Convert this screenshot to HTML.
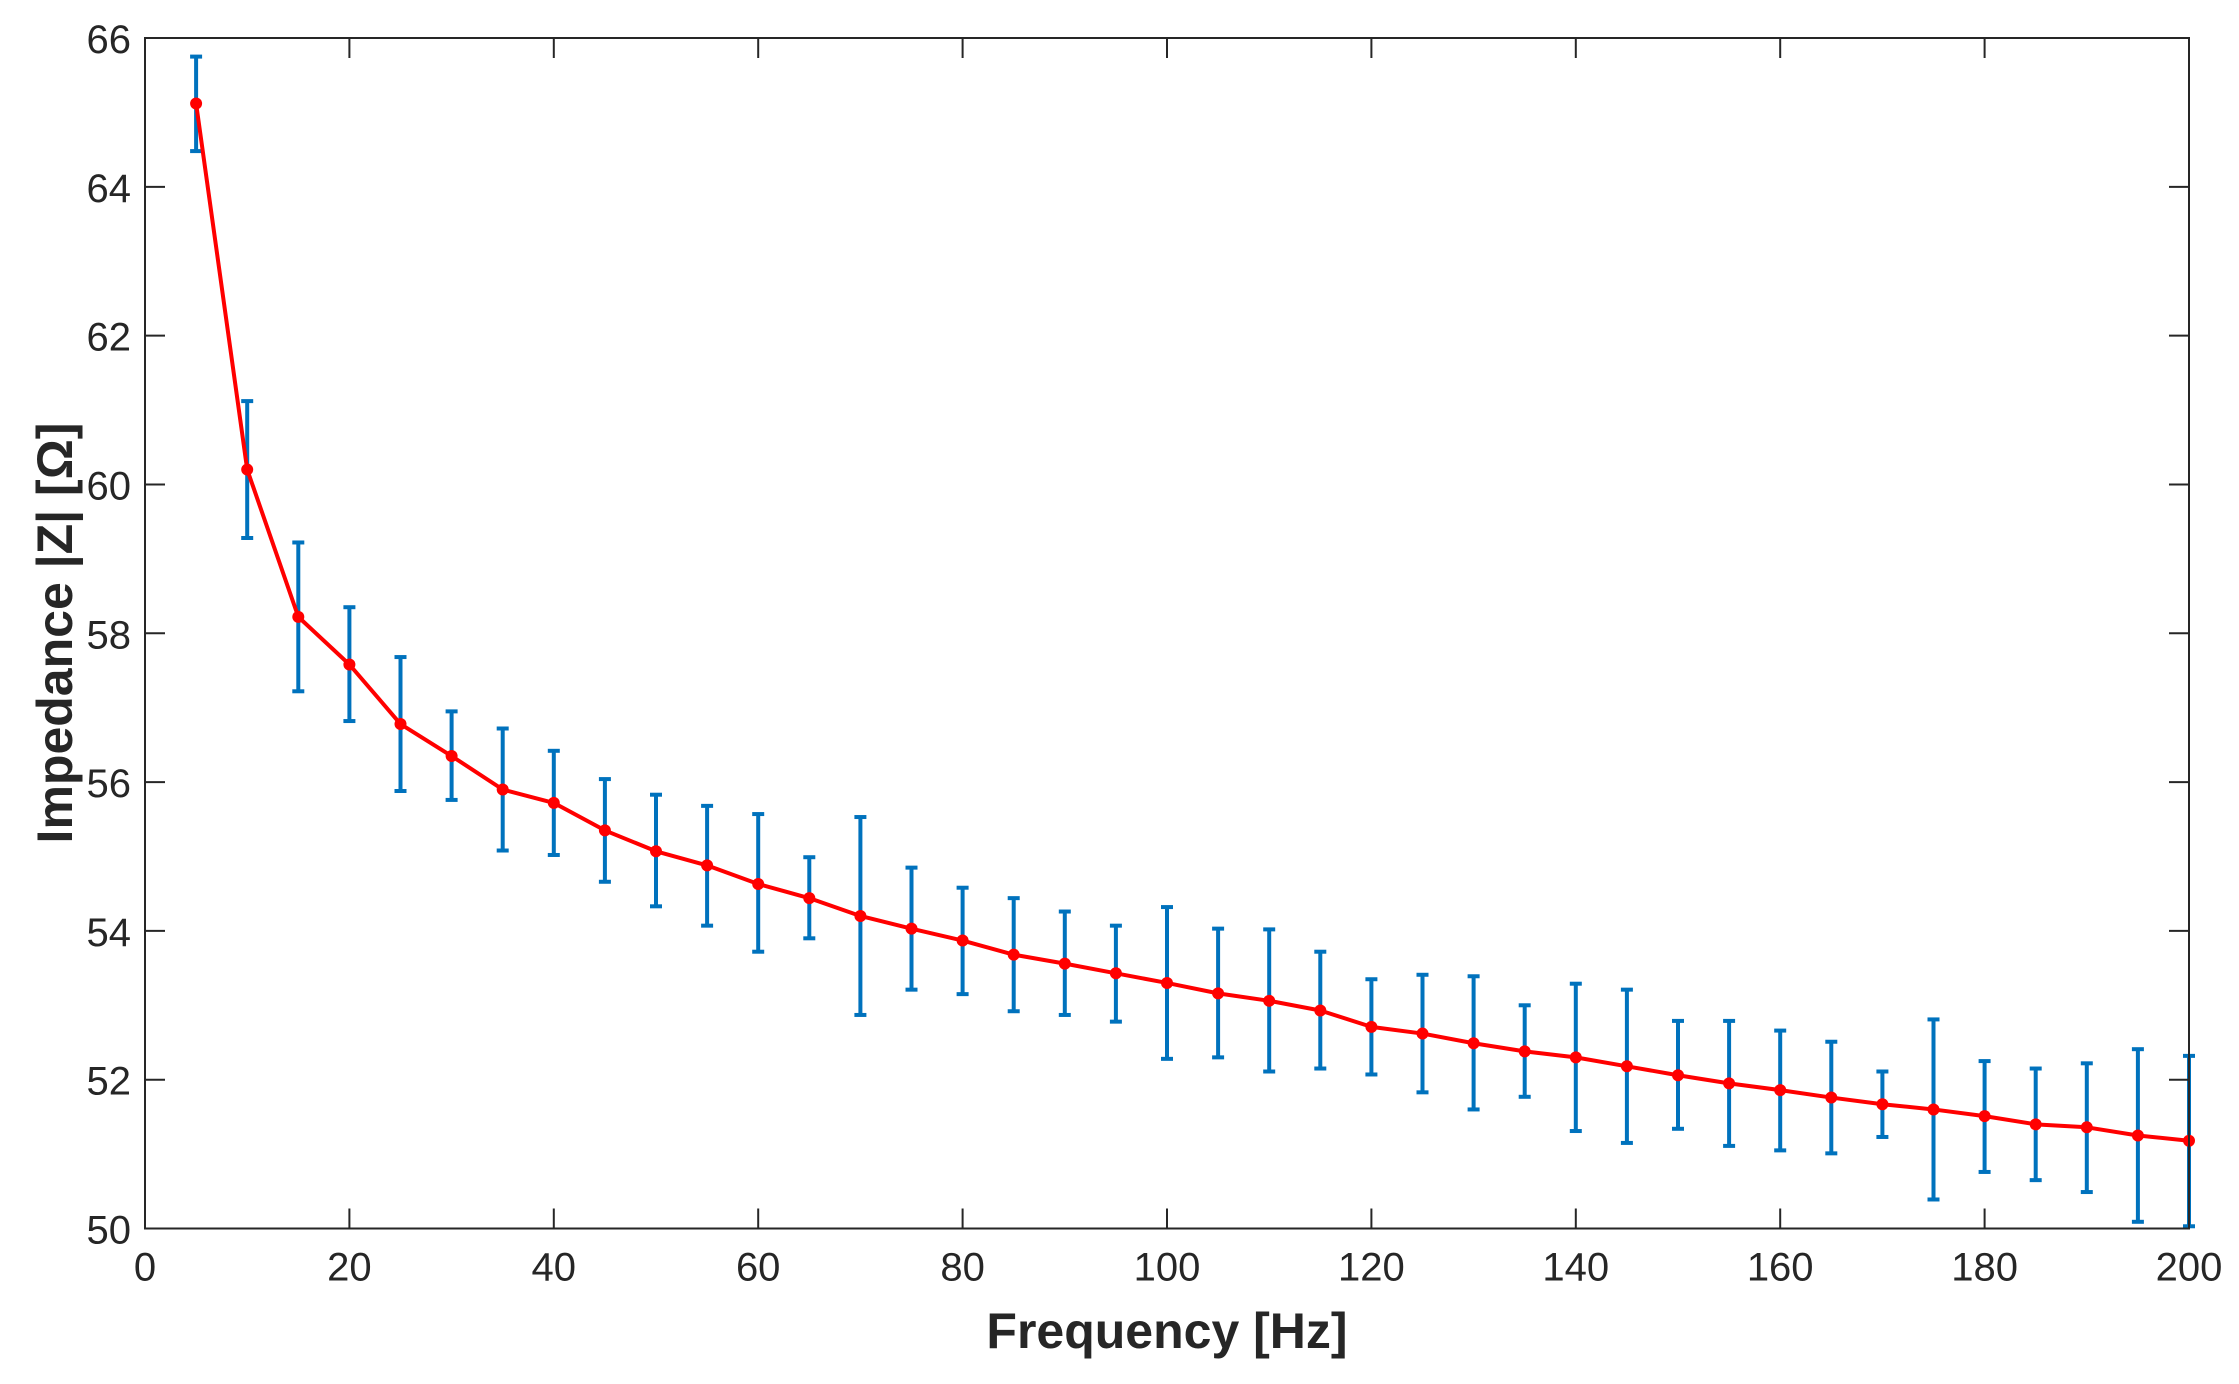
<!DOCTYPE html>
<html><head><meta charset="utf-8"><style>
body{margin:0;background:#fff;}
svg text{font-family:"Liberation Sans",Arial,sans-serif;fill:#262626;}
</style></head><body>
<svg id="chart" width="2239" height="1379" viewBox="0 0 2239 1379" xmlns="http://www.w3.org/2000/svg">
<rect x="0" y="0" width="2239" height="1379" fill="#fff"/>
<g id="grid"></g><g id="err"></g><g id="line"></g><g id="ticks"></g>
<text x="1167" y="1348" font-size="50" font-weight="bold" text-anchor="middle">Frequency [Hz]</text>
<text transform="translate(72,633) rotate(-90)" font-size="50" font-weight="bold" text-anchor="middle">Impedance |Z| [Ω]</text>
</svg>
<script>
const freqs=[5,10,15,20,25,30,35,40,45,50,55,60,65,70,75,80,85,90,95,100,105,110,115,120,125,130,135,140,145,150,155,160,165,170,175,180,185,190,195,200];
const impedance=[65.12,60.2,58.22,57.58,56.78,56.35,55.9,55.72,55.35,55.07,54.88,54.63,54.44,54.2,54.03,53.87,53.68,53.56,53.43,53.3,53.16,53.06,52.93,52.71,52.62,52.49,52.38,52.3,52.18,52.06,51.95,51.86,51.76,51.67,51.6,51.51,51.4,51.36,51.25,51.18];
const lower=[64.48,59.28,57.22,56.82,55.88,55.76,55.08,55.02,54.66,54.33,54.07,53.72,53.9,52.87,53.21,53.15,52.92,52.87,52.78,52.28,52.3,52.11,52.15,52.07,51.83,51.6,51.77,51.31,51.15,51.34,51.11,51.05,51.01,51.23,50.39,50.76,50.65,50.49,50.09,50.03];
const upper=[65.75,61.12,59.22,58.35,57.68,56.95,56.72,56.42,56.04,55.83,55.68,55.57,54.99,55.53,54.85,54.58,54.44,54.26,54.07,54.32,54.03,54.02,53.72,53.35,53.41,53.39,53.0,53.29,53.21,52.79,52.79,52.66,52.51,52.11,52.81,52.25,52.15,52.22,52.41,52.32];
const xTicks=[0,20,40,60,80,100,120,140,160,180,200];
const yTicks=[50,52,54,56,58,60,62,64,66];
const L=145,R=2189,T=38,B=1228.5;
const xs=v=>L+(v-0)/(200-0)*(R-L);
const ys=v=>B-(v-50)/(66-50)*(B-T);
const NS='http://www.w3.org/2000/svg';
function mk(tag,attrs,parent){const e=document.createElementNS(NS,tag);for(const k in attrs)e.setAttribute(k,attrs[k]);parent.appendChild(e);return e;}
const svg=document.getElementById('chart');
const tg=document.getElementById('ticks');
const box=mk('rect',{x:L,y:T,width:R-L,height:B-T,fill:'none',stroke:'#262626','stroke-width':2},tg);


xTicks.forEach(v=>{
  const x=xs(v);
  mk('line',{x1:x,y1:B,x2:x,y2:B-20,stroke:'#262626','stroke-width':2},tg);
  mk('line',{x1:x,y1:T,x2:x,y2:T+20,stroke:'#262626','stroke-width':2},tg);
  const t=mk('text',{x:x,y:B+52,'font-size':40,'text-anchor':'middle'},tg);
  t.textContent=v;
  
  
});
yTicks.forEach(v=>{
  const y=ys(v);
  mk('line',{x1:L,y1:y,x2:L+20,y2:y,stroke:'#262626','stroke-width':2},tg);
  mk('line',{x1:R,y1:y,x2:R-20,y2:y,stroke:'#262626','stroke-width':2},tg);
  const t=mk('text',{x:L-14,y:y+15,'font-size':40,'text-anchor':'end'},tg);
  t.textContent=v;
  
  
});
const eg=document.getElementById('err');
freqs.forEach((f,i)=>{
  const x=xs(f),y1=ys(lower[i]),y2=ys(upper[i]);
  const g=mk('g',{stroke:'#0072BD','stroke-width':4},eg);
  
  
  mk('line',{x1:x,y1:y1,x2:x,y2:y2},g);
  mk('line',{x1:x-6,y1:y1,x2:x+6,y2:y1},g);
  mk('line',{x1:x-6,y1:y2,x2:x+6,y2:y2},g);
});
const lg=document.getElementById('line');
const pl=mk('polyline',{points:freqs.map((f,i)=>xs(f)+','+ys(impedance[i])).join(' '),fill:'none',stroke:'#FF0000','stroke-width':4,'stroke-linejoin':'round'},lg);


freqs.forEach((f,i)=>{
  const c=mk('circle',{cx:xs(f),cy:ys(impedance[i]),r:6,fill:'#FF0000'},lg);
  
  
});
</script>
</body></html>
